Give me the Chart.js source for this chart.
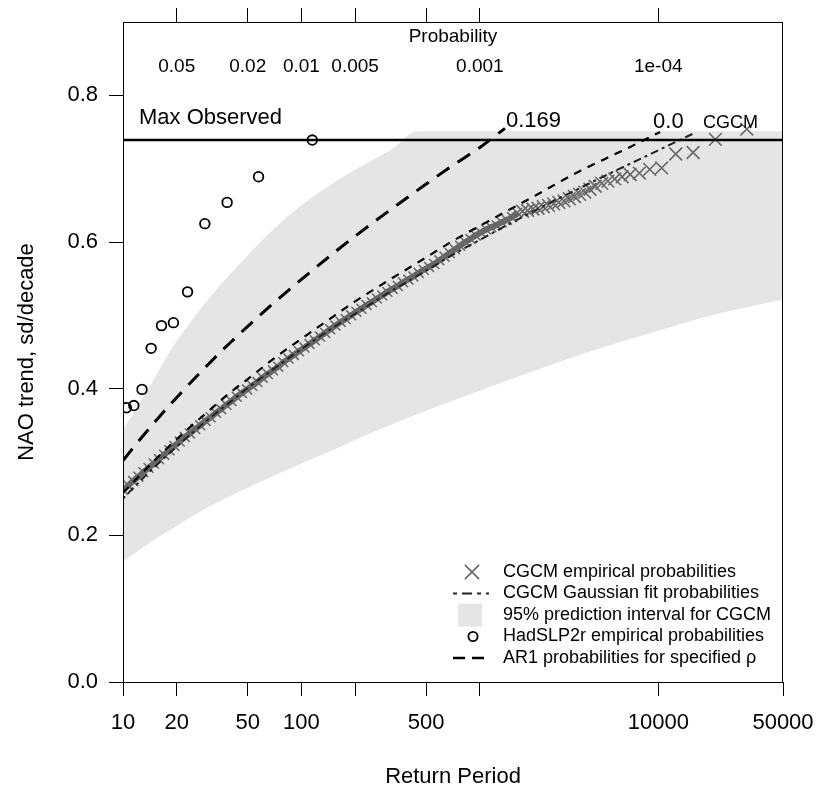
<!DOCTYPE html>
<html>
<head>
<meta charset="utf-8">
<script src="https://cdn.jsdelivr.net/npm/chart.js@4.4.1/dist/chart.umd.min.js"></script>
<style>
  body{margin:0;background:#fff;}
  #wrap{width:817px;height:789px;}
</style>
</head>
<body>
<div id="wrap"><canvas id="chart" width="817" height="789"></canvas></div>
<script>
// ---- values ----
var xTicks = [10, 20, 50, 100, 200, 500, 1000, 10000, 50000];
var xTickLabels = ['10', '20', '50', '100', '', '500', '', '10000', '50000'];
var probTicks = [20, 50, 100, 200, 500, 1000, 10000];
var probLabels = ['0.05', '0.02', '0.01', '0.005', '', '0.001', '1e-04'];
var yTicks = [0, 0.2, 0.4, 0.6, 0.8];

var maxObserved = 0.739;

// 95% prediction interval for CGCM
var bandT     = [10, 12, 15, 18, 25, 32, 50, 76, 100, 150, 200, 326, 444, 1000, 2000, 5000, 10000, 20000, 50000];
var bandUpper = [0.344, 0.375, 0.414, 0.448, 0.497, 0.530, 0.582, 0.626, 0.650, 0.680, 0.699, 0.728, 0.751, 0.751, 0.751, 0.751, 0.751, 0.751, 0.751];
var bandLower = [0.164, 0.178, 0.194, 0.206, 0.227, 0.242, 0.265, 0.285, 0.298, 0.316, 0.330, 0.352, 0.365, 0.397, 0.424, 0.457, 0.479, 0.500, 0.522];

// CGCM empirical probabilities (crosses), dense part
var cgcmT = [10, 10.7, 11.4, 12.2, 13, 13.9, 14.9, 15.9, 17, 18.2, 19.4, 20.8, 22.2, 23.7, 25.4, 27.1, 29, 31,
  33.2, 35.5, 38, 40.6, 43.4, 46.4, 49.6, 53, 56.7, 60.6, 64.8, 69.3, 74.1, 79.2, 84.7, 90.6, 96.9,
  104, 111, 119, 127, 136, 145, 155, 166, 177, 190, 203, 217, 232, 248, 265, 284, 303, 324, 347, 371,
  397, 424, 454, 485, 519, 555, 593, 634, 678, 725, 775, 829, 886, 948, 1013, 1084, 1159, 1239, 1325,
  1417, 1515, 1620];
var cgcmV = [0.262, 0.268, 0.274, 0.280, 0.286, 0.292, 0.298, 0.304, 0.310, 0.316, 0.322, 0.328, 0.334, 0.339, 0.345, 0.350, 0.356, 0.361,
  0.367, 0.372, 0.378, 0.383, 0.389, 0.394, 0.399, 0.404, 0.409, 0.415, 0.420, 0.425, 0.430, 0.436, 0.441, 0.446, 0.451,
  0.456, 0.461, 0.466, 0.471, 0.476, 0.481, 0.486, 0.491, 0.495, 0.500, 0.505, 0.509, 0.514, 0.518, 0.523, 0.527, 0.532, 0.536, 0.540, 0.545,
  0.549, 0.553, 0.558, 0.562, 0.566, 0.570, 0.575, 0.580, 0.585, 0.590, 0.595, 0.600, 0.604, 0.609, 0.613, 0.617, 0.620, 0.623, 0.627,
  0.630, 0.634, 0.640];
// the largest CGCM values, where single crosses can be seen
var cgcmTailT = [1733, 1853, 1981, 2119, 2266, 2423, 2591, 2770, 2962, 3168, 3388, 3622, 3874, 4142, 4430,
  4820, 5220, 5700, 6270, 6960, 7830, 8950, 10440, 12530, 15670, 20890, 31330];
var cgcmTailV = [0.642, 0.643, 0.645, 0.646, 0.648, 0.650, 0.652, 0.654, 0.656, 0.659, 0.662, 0.665, 0.668, 0.672, 0.676,
  0.680, 0.683, 0.686, 0.689, 0.692, 0.694, 0.699, 0.701, 0.720, 0.722, 0.740, 0.754];

// CGCM Gaussian fit probabilities
var gaussT = [10, 12, 15, 20, 30, 40, 50, 70, 100, 150, 200, 300, 500, 700, 1000, 2000, 5000, 10000, 16070];
var gaussV = [0.250, 0.270, 0.293, 0.321, 0.358, 0.382, 0.401, 0.427, 0.454, 0.483, 0.502, 0.529, 0.561, 0.582, 0.603, 0.642, 0.690, 0.725, 0.749];

// AR1 probabilities, rho = 0.0
var ar0T = [10, 12, 15, 20, 30, 40, 50, 70, 100, 150, 200, 300, 500, 700, 1000, 2000, 3648, 5000, 7000, 10240];
var ar0V = [0.258, 0.278, 0.302, 0.331, 0.369, 0.395, 0.413, 0.441, 0.468, 0.498, 0.519, 0.546, 0.579, 0.601, 0.622, 0.662, 0.697, 0.713, 0.730, 0.750];

// AR1 probabilities, rho = 0.169
var ar169T = [10, 12, 15, 20, 30, 40, 50, 70, 100, 150, 200, 300, 500, 700, 1000, 1383];
var ar169V = [0.302, 0.326, 0.354, 0.388, 0.433, 0.463, 0.485, 0.517, 0.549, 0.584, 0.608, 0.640, 0.679, 0.704, 0.729, 0.755];

// HadSLP2r empirical probabilities (circles)
var hadT = [10.45, 11.5, 12.78, 14.38, 16.43, 19.17, 23, 28.75, 38.33, 57.5, 115];
var hadV = [0.374, 0.377, 0.399, 0.455, 0.486, 0.490, 0.532, 0.625, 0.654, 0.689, 0.739];

function pts(xs, ys){
  return xs.map(function(x, i){ return {x: x, y: ys[i]}; });
}

var FONT = '"Liberation Sans", Arial, sans-serif';
function F(s){ return s + 'px ' + FONT; }
Chart.defaults.font.family = FONT;

var crossGrey = '#676767';

var extras = {
  id: 'extras',
  afterDraw: function(chart){
    var ctx = chart.ctx, a = chart.chartArea;
    var xs = chart.scales.x, ys = chart.scales.y;
    ctx.save();
    // box
    ctx.strokeStyle = '#000';
    ctx.lineWidth = 1;
    ctx.strokeRect(a.left + 0.5, a.top + 0.5, a.right - a.left - 1, a.bottom - a.top);

    ctx.fillStyle = '#000';
    ctx.textBaseline = 'middle';
    ctx.textAlign = 'center';
    // top probability axis labels (inside the box)
    ctx.font = F(19);
    ctx.fillText('Probability', (a.left + a.right) / 2, 37);
    probTicks.forEach(function(t, i){
      if (probLabels[i]) ctx.fillText(probLabels[i], xs.getPixelForValue(t), 67);
    });

    // axis titles
    ctx.font = F(22);
    ctx.fillText('Return Period', (a.left + a.right) / 2, 777);
    ctx.save();
    ctx.translate(27, (a.top + a.bottom) / 2);
    ctx.rotate(-Math.PI / 2);
    ctx.fillText('NAO trend, sd/decade', 0, 0);
    ctx.restore();

    // annotations
    ctx.textAlign = 'left';
    ctx.fillText('Max Observed', a.left + 16, 118);
    function endLabel(txt, T, V, dx, dy, size){
      ctx.font = F(size);
      var n = T.length - 1;
      ctx.fillText(txt, xs.getPixelForValue(T[n]) + dx, ys.getPixelForValue(V[n]) + dy);
    }
    endLabel('0.169', ar169T, ar169V, 1, -7, 22);
    endLabel('0.0', ar0T, ar0V, -7, -10, 22);
    endLabel('CGCM', gaussT, gaussV, 8, -10, 18);

    // legend
    var sx = 472, tx = 503, rows = [572, 593.5, 615, 636.5, 658];
    var texts = ['CGCM empirical probabilities', 'CGCM Gaussian fit probabilities',
      '95% prediction interval for CGCM', 'HadSLP2r empirical probabilities',
      'AR1 probabilities for specified \u03c1'];
    ctx.font = F(18);
    texts.forEach(function(t, i){ ctx.fillText(t, tx, rows[i]); });

    var d = 7.1;
    ctx.strokeStyle = crossGrey;
    ctx.lineWidth = 1.6;
    ctx.beginPath();
    ctx.moveTo(sx - d, rows[0] - d); ctx.lineTo(sx + d, rows[0] + d);
    ctx.moveTo(sx - d, rows[0] + d); ctx.lineTo(sx + d, rows[0] - d);
    ctx.stroke();

    ctx.strokeStyle = '#222';
    ctx.lineWidth = 2;
    ctx.setLineDash([4, 5, 10, 5]);
    ctx.beginPath(); ctx.moveTo(453, rows[1]); ctx.lineTo(489, rows[1]); ctx.stroke();

    ctx.fillStyle = '#e5e5e5';
    ctx.fillRect(458, rows[2] - 11.5, 24, 23);

    ctx.setLineDash([]);
    ctx.strokeStyle = '#000';
    ctx.lineWidth = 1.8;
    ctx.beginPath(); ctx.arc(sx + 1, rows[3], 4.6, 0, Math.PI * 2); ctx.stroke();

    ctx.lineWidth = 2.5;
    ctx.setLineDash([12, 7]);
    ctx.beginPath(); ctx.moveTo(453, rows[4]); ctx.lineTo(484, rows[4]); ctx.stroke();
    ctx.restore();
  }
};

function fixTicks(list){
  return function(s){ s.ticks = list.map(function(v){ return {value: v}; }); };
}

new Chart(document.getElementById('chart'), {
  type: 'line',
  data: {
    datasets: [
      {data: pts([10, 50000], [maxObserved, maxObserved]), borderColor: '#000', borderWidth: 2.5, pointRadius: 0},
      {data: pts(hadT, hadV), showLine: false, pointStyle: 'circle', pointRadius: 4.8, pointBorderWidth: 1.8,
       pointBorderColor: '#000', pointBackgroundColor: 'rgba(0,0,0,0)', clip: 0},
      {data: pts(ar169T, ar169V), borderColor: '#000', borderWidth: 3, borderDash: [15, 10], pointRadius: 0, cubicInterpolationMode: 'monotone'},
      {data: pts(ar0T, ar0V), borderColor: '#000', borderWidth: 2.2, borderDash: [8, 7], pointRadius: 0, cubicInterpolationMode: 'monotone'},
      {data: pts(gaussT, gaussV), borderColor: '#222', borderWidth: 2, borderDash: [3, 4, 8, 4], pointRadius: 0, cubicInterpolationMode: 'monotone'},
      {data: pts(cgcmTailT, cgcmTailV), showLine: false, pointStyle: 'crossRot', pointRadius: 9, pointBorderWidth: 1.6,
       pointBorderColor: crossGrey, clip: 0},
      {data: pts(cgcmT, cgcmV), borderColor: crossGrey, borderWidth: 6, pointStyle: 'crossRot', pointRadius: 7,
       pointBorderWidth: 1.5, pointBorderColor: crossGrey, clip: 0},
      {data: pts(bandT, bandUpper), borderWidth: 0, borderColor: 'rgba(0,0,0,0)', pointRadius: 0, fill: '+1',
       backgroundColor: '#e5e5e5', cubicInterpolationMode: 'monotone'},
      {data: pts(bandT, bandLower), borderWidth: 0, borderColor: 'rgba(0,0,0,0)', pointRadius: 0, fill: false,
       cubicInterpolationMode: 'monotone'}
    ]
  },
  options: {
    responsive: false,
    animation: false,
    devicePixelRatio: 1,
    events: [],
    layout: {padding: {left: 0, right: 34, top: 0, bottom: 0}},
    plugins: {legend: {display: false}, tooltip: {enabled: false}},
    scales: {
      x: {
        type: 'logarithmic', position: 'bottom', min: 10, max: 50000,
        afterBuildTicks: fixTicks(xTicks),
        afterFit: function(s){ s.height = 107; s.paddingLeft = 0; s.paddingRight = 0; },
        ticks: {autoSkip: false, maxRotation: 0, minRotation: 0, padding: 14, color: '#000', font: {size: 22},
          callback: function(v, i){ return xTickLabels[i]; }},
        grid: {drawOnChartArea: false, drawTicks: true, tickLength: 14, color: '#000', lineWidth: 1},
        border: {display: false}
      },
      x2: {
        type: 'logarithmic', position: 'top', min: 10, max: 50000,
        afterBuildTicks: fixTicks(probTicks),
        afterFit: function(s){ s.height = 22; s.paddingLeft = 0; s.paddingRight = 0; },
        ticks: {autoSkip: false, maxRotation: 0, callback: function(){ return ''; }},
        grid: {drawOnChartArea: false, drawTicks: true, tickLength: 14, color: '#000', lineWidth: 1},
        border: {display: false}
      },
      y: {
        type: 'linear', min: 0, max: 0.9,
        afterBuildTicks: fixTicks(yTicks),
        afterFit: function(s){ s.width = 123; s.paddingTop = 0; s.paddingBottom = 0; },
        ticks: {padding: 11, color: '#000', font: {size: 22},
          callback: function(v){ return v.toFixed(1); }},
        grid: {drawOnChartArea: false, drawTicks: true, tickLength: 14, color: '#000', lineWidth: 1},
        border: {display: false}
      }
    }
  },
  plugins: [extras]
});
</script>
</body>
</html>
